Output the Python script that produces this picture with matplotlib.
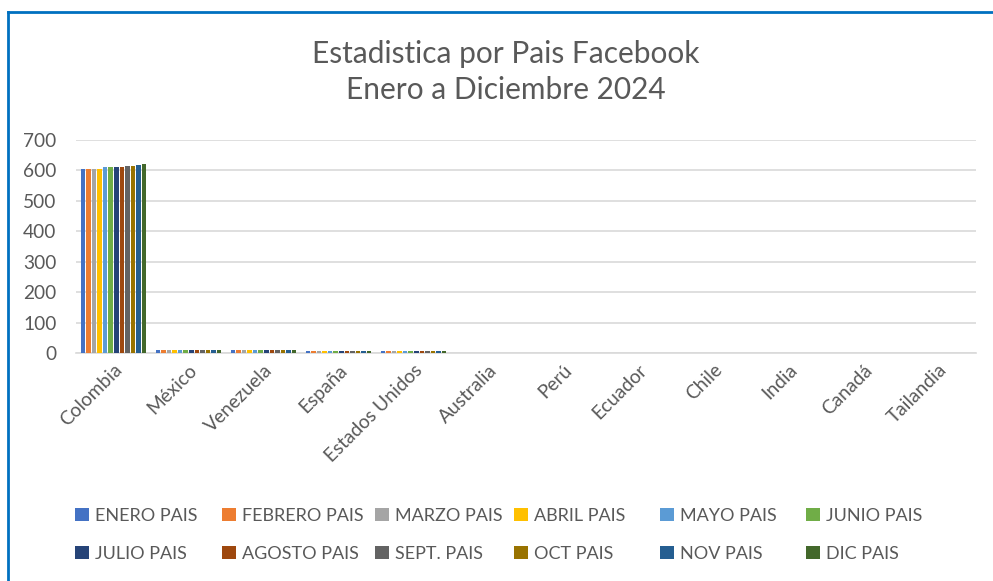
import numpy as np
import matplotlib
matplotlib.use("Agg")
import matplotlib.pyplot as plt
from matplotlib.lines import Line2D


COUNTRIES = [
    "Colombia", "México", "Venezuela", "España", "Estados Unidos",
    "Australia", "Perú", "Ecuador", "Chile", "India", "Canadá", "Tailandia",
]

MONTHS = [
    "ENERO PAIS", "FEBRERO PAIS", "MARZO PAIS", "ABRIL PAIS",
    "MAYO PAIS", "JUNIO PAIS", "JULIO PAIS", "AGOSTO PAIS",
    "SEPT. PAIS", "OCT PAIS", "NOV PAIS", "DIC PAIS",
]

COLORS = [
    "#4472C4", "#ED7D31", "#A5A5A5", "#FFC000", "#5B9BD5", "#70AD47",
    "#264478", "#9E480E", "#636363", "#997300", "#255E91", "#43682B",
]

# values per month, one list per country
COLOMBIA = [606, 606, 606, 606, 610, 610, 610, 610, 614, 614, 619, 622]
MEXICO = [10, 10, 10, 10, 10, 10, 10, 10, 10, 10, 10, 10]
VENEZUELA = [10, 10, 10, 10, 10, 10, 10, 10, 10, 10, 10, 10]
ESPANA = [6, 6, 6, 6, 6, 6, 6, 6, 6, 6, 6, 6]
EEUU = [6, 6, 6, 6, 6, 6, 6, 6, 6, 6, 6, 6]
AUSTRALIA = [1] * 12
PERU = [0.5] * 12
ECUADOR = [0.5] * 12
CHILE = [0.5] * 12
INDIA = [0.5] * 12
CANADA = [0.5] * 12
TAILANDIA = [0.5] * 12

TEXT = "#595959"
GRID = "#D9D9D9"
FONT = "Lato"


def build_matrix():
    rows = [COLOMBIA, MEXICO, VENEZUELA, ESPANA, EEUU, AUSTRALIA,
            PERU, ECUADOR, CHILE, INDIA, CANADA, TAILANDIA]
    return np.array(rows, dtype=float)  # countries x months


def draw():
    data = build_matrix()
    fig = plt.figure(figsize=(9.93, 5.81), dpi=100)
    ax = fig.add_axes([76 / 993, 0.3924, 900 / 993, 0.3666])

    n = len(MONTHS)
    x = np.arange(len(COUNTRIES))
    step = 0.89 / n
    bars = []
    for i in range(n):
        offs = -0.445 + step * (i + 0.5)
        b = ax.bar(x + offs, data[:, i], width=step * 0.82,
                   color=COLORS[i], zorder=3)
        bars.append(b)

    ax.set_xlim(-0.5, len(COUNTRIES) - 0.5)
    ax.set_ylim(0, 700)
    ax.set_yticks(range(0, 701, 100))
    ax.yaxis.grid(True, color=GRID, linewidth=1.2)
    ax.set_axisbelow(True)
    for side in ["top", "right", "left"]:
        ax.spines[side].set_visible(False)
    ax.spines["bottom"].set_color(GRID)
    ax.spines["bottom"].set_linewidth(1.2)
    ax.tick_params(axis="both", length=0, colors=TEXT, labelsize=13.8)
    ax.tick_params(axis="y", pad=14)
    ax.tick_params(axis="x", pad=6)
    ax.set_xticks(x)
    ax.set_xticklabels(COUNTRIES, rotation=45, ha="right",
                       rotation_mode="anchor", fontfamily=FONT)
    for lab in ax.get_yticklabels():
        lab.set_fontfamily(FONT)

    fig.text(0.509, 1 - 72 / 581, "Estadistica por Pais Facebook\nEnero a Diciembre 2024",
             ha="center", va="center", fontsize=21.5, color=TEXT,
             fontfamily=FONT, linespacing=1.35)

    # legend: one small legend per column, equal column widths like Excel
    col_x = [75, 222, 375, 514, 660, 806]
    for c in range(6):
        idx = [c, c + 6]
        handles = [bars[i] for i in idx]
        labels = [MONTHS[i] for i in idx]
        leg = fig.legend(handles, labels, loc="upper left",
                         bbox_to_anchor=(col_x[c] / 993 - 0.009, 1 - 499 / 581),
                         frameon=False, handlelength=0.75, handleheight=0.75,
                         handletextpad=0.35, labelspacing=1.22,
                         borderpad=0, prop={"family": FONT, "size": 13})
        for t in leg.get_texts():
            t.set_color(TEXT)

    # blue frame of the chart object
    fig.add_artist(Line2D([8 / 993, 8 / 993], [0, 1 - 12 / 581],
                          transform=fig.transFigure, color="#0070C0", lw=2))
    fig.add_artist(Line2D([8 / 993, 1], [1 - 12 / 581, 1 - 12 / 581],
                          transform=fig.transFigure, color="#0070C0", lw=2))

    fig.savefig("out.png", dpi=100)
    plt.close(fig)


if __name__ == "__main__":
    draw()
